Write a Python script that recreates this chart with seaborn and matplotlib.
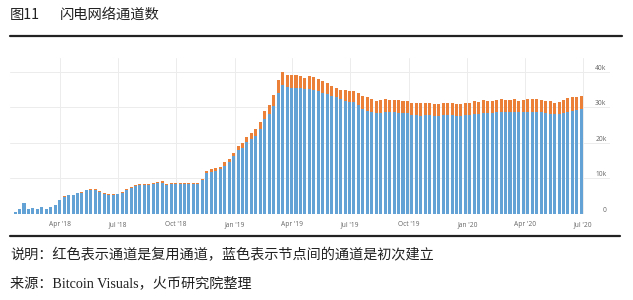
import numpy as np
import pandas as pd
import matplotlib
matplotlib.use("Agg")
import matplotlib.pyplot as plt
import matplotlib.dates as mdates
from matplotlib.lines import Line2D
import seaborn as sns

# ---------------- data (thousands of channels, weekly) ----------------
start_date = "2018-01-21"
total_k = [
    0.3, 1.2, 2.9, 1.4, 1.5, 1.4, 1.8, 1.4, 1.8, 2.5,
    3.9, 4.8, 5.3, 5.3, 5.9, 6.0, 6.7, 6.9, 6.8, 6.3,
    5.7, 5.5, 5.5, 5.6, 6.1, 6.9, 7.5, 7.9, 8.2, 8.2,
    8.4, 8.6, 8.8, 9.1, 8.3, 8.5, 8.6, 8.7, 8.7, 8.7,
    8.6, 8.7, 9.8, 12.0, 12.5, 12.8, 13.2, 14.4, 15.3, 17.0,
    19.1, 19.8, 21.5, 22.6, 23.8, 25.9, 28.9, 30.7, 33.4, 37.6,
    39.8, 39.2, 39.0, 39.0, 38.7, 38.3, 38.7, 38.5, 38.0, 37.3,
    36.7, 36.1, 35.4, 34.8, 34.8, 34.6, 34.6, 34.0, 33.1, 32.9,
    32.4, 31.8, 32.0, 32.2, 32.0, 32.0, 32.0, 31.8, 31.8, 31.1,
    31.1, 31.3, 31.3, 31.1, 30.8, 30.8, 31.1, 31.3, 31.1, 30.9,
    30.9, 31.1, 31.3, 31.7, 31.5, 32.0, 31.8, 31.8, 32.0, 32.3,
    32.0, 32.0, 32.2, 31.8, 32.0, 32.2, 32.2, 32.2, 32.0, 31.8,
    31.6, 31.3, 31.4, 32.0, 32.5, 32.8, 33.0, 33.1,
]
new_k = [
    0.3, 1.2, 2.9, 1.4, 1.5, 1.4, 1.8, 1.4, 1.8, 2.5,
    3.8, 4.7, 5.2, 5.2, 5.8, 5.9, 6.5, 6.7, 6.6, 6.1,
    5.5, 5.3, 5.3, 5.4, 5.9, 6.7, 7.3, 7.7, 7.9, 7.9,
    8.1, 8.3, 8.5, 8.7, 8.0, 8.2, 8.3, 8.4, 8.4, 8.4,
    8.3, 8.4, 9.4, 11.4, 11.8, 12.0, 12.5, 13.5, 14.4, 16.2,
    18.0, 18.4, 20.3, 21.0, 21.8, 23.8, 26.6, 28.1, 30.4, 34.1,
    36.2, 35.8, 35.5, 35.5, 35.3, 35.0, 35.0, 34.8, 34.6, 34.0,
    33.6, 33.2, 32.8, 32.2, 31.7, 31.5, 31.5, 30.6, 29.6, 29.0,
    28.5, 28.3, 28.3, 28.5, 28.5, 28.5, 28.3, 28.3, 28.3, 27.8,
    27.8, 27.6, 27.8, 27.7, 27.6, 27.6, 27.7, 27.8, 27.8, 27.6,
    27.6, 27.7, 27.8, 28.0, 28.1, 28.3, 28.3, 28.4, 28.5, 28.6,
    28.7, 28.7, 28.7, 28.5, 28.5, 28.6, 28.6, 28.6, 28.5, 28.4,
    28.2, 28.1, 28.1, 28.4, 28.7, 28.9, 29.2, 29.4,
]
xtick_dates = ["2018-04-01", "2018-07-01", "2018-10-01", "2019-01-01", "2019-04-01",
               "2019-07-01", "2019-10-01", "2020-01-01", "2020-04-01", "2020-07-01"]
xtick_labels = ["Apr '18", "Jul '18", "Oct '18", "Jan '19", "Apr '19",
                "Jul '19", "Oct '19", "Jan '20", "Apr '20", "Jul '20"]
ytick_values = [0, 10000, 20000, 30000, 40000]
ytick_labels = ["0", "10k", "20k", "30k", "40k"]

title_num = "图11"
title_text = "闪电网络通道数"
note_text = "说明：红色表示通道是复用通道，蓝色表示节点间的通道是初次建立"
source_text = "来源：Bitcoin Visuals，火币研究院整理"

# ---------------- build frame ----------------
dates = pd.date_range(start_date, periods=len(total_k), freq="7D")
df = pd.DataFrame({
    "x": mdates.date2num(dates),
    "total": np.array(total_k) * 1000,
    "new": np.array(new_k) * 1000,
})

BLUE = "#62a2d5"
ORANGE = "#eb8138"

sns.set_theme(style="white")
plt.rcParams["font.family"] = ["Open Sans", "DejaVu Sans"]

W, H = 633, 300
fig = plt.figure(figsize=(W / 100, H / 100), dpi=100)
ax = fig.add_axes([10 / W, (H - 213.5) / H, 600 / W, 156 / H])

sns.barplot(data=df, x="x", y="total", native_scale=True, color=ORANGE,
            saturation=1, width=0.68, errorbar=None, linewidth=0, ax=ax)
sns.barplot(data=df, x="x", y="new", native_scale=True, color=BLUE,
            saturation=1, width=0.68, errorbar=None, linewidth=0, ax=ax)

ax.set_xlim(mdates.date2num(pd.Timestamp("2018-01-13")),
            mdates.date2num(pd.Timestamp("2020-08-12")))
ax.set_ylim(0, 44000)
ax.set_xlabel("")
ax.set_ylabel("")

ax.set_xticks(mdates.date2num(pd.to_datetime(xtick_dates)))
ax.set_xticklabels(xtick_labels)
ax.yaxis.tick_right()
ax.set_yticks(ytick_values)
ax.set_yticklabels(ytick_labels)

ax.tick_params(axis="x", length=0, pad=5.5, labelsize=4.8, labelcolor="#666666")
ax.tick_params(axis="y", length=0, pad=-2.5, labelsize=4.8, labelcolor="#666666")
for lbl in ax.get_yticklabels():
    lbl.set_horizontalalignment("right")
    lbl.set_verticalalignment("bottom")

ax.grid(True, color="#ececec", linewidth=0.7)
ax.set_axisbelow(True)
for s in ax.spines.values():
    s.set_visible(False)

# ---------------- titles / notes ----------------
cjk = ["Noto Sans CJK SC", "DejaVu Sans"]
fig.text(10 / W, 1 - 15 / H, title_num, fontsize=10.3, family=cjk,
         ha="left", va="center", color="#222222")
fig.text(60 / W, 1 - 15 / H, title_text, fontsize=10.3, family=cjk,
         ha="left", va="center", color="#222222")
fig.add_artist(Line2D([10 / W, 622 / W], [1 - 36 / H, 1 - 36 / H],
                      color="#222222", linewidth=1.6))
fig.add_artist(Line2D([10 / W, 620 / W], [1 - 236 / H, 1 - 236 / H],
                      color="#222222", linewidth=1.6))
fig.text(10 / W, 1 - 255 / H, note_text, fontsize=10.2, family=cjk,
         ha="left", va="center", color="#222222")
fig.text(10 / W, 1 - 283 / H, source_text, fontsize=10.2,
         family=["Liberation Serif", "Noto Sans CJK SC"],
         ha="left", va="center", color="#222222")

fig.savefig("out.png", dpi=100)
